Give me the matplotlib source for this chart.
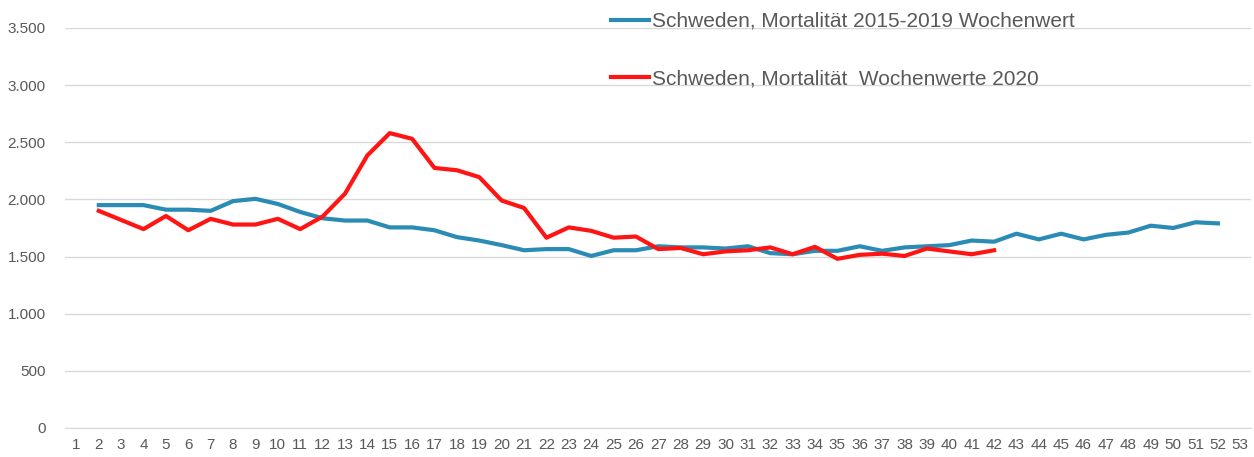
import matplotlib.pyplot as plt
from matplotlib.ticker import FuncFormatter

plt.rcParams['font.family'] = ['Liberation Sans', 'DejaVu Sans']

weeks = list(range(1, 54))
weeks_avg = list(range(2, 53))
weeks_2020 = list(range(2, 43))

avg_2015_2019 = [1950, 1950, 1950, 1910, 1910, 1900, 1985, 2005, 1960, 1890,
                 1835, 1815, 1815, 1755, 1755, 1730, 1670, 1640, 1600, 1555,
                 1565, 1565, 1505, 1555, 1555, 1590, 1580, 1580, 1570, 1590,
                 1530, 1520, 1550, 1550, 1590, 1550, 1580, 1590, 1600, 1640,
                 1630, 1700, 1650, 1700, 1650, 1690, 1710, 1770, 1750, 1800,
                 1790]

values_2020 = [1900, 1820, 1740, 1855, 1730, 1830, 1780, 1780, 1830, 1740,
               1850, 2050, 2385, 2580, 2530, 2275, 2255, 2195, 1990, 1925,
               1665, 1755, 1725, 1665, 1675, 1565, 1575, 1520, 1545, 1555,
               1580, 1520, 1585, 1480, 1515, 1525, 1505, 1570, 1545, 1520,
               1555]

fig = plt.figure(figsize=(12.54, 4.57), dpi=100)
ax = fig.add_axes([0.052, 0.0635, 0.946, 0.8753])

ax.plot(weeks_avg, avg_2015_2019, color='#2A8BB5', lw=3,
        label='Schweden, Mortalität 2015-2019 Wochenwert')
ax.plot(weeks_2020, values_2020, color='#FF1414', lw=3,
        label='Schweden, Mortalität  Wochenwerte 2020')

ax.set_xlim(0.5, 53.5)
ax.set_ylim(0, 3500)
ax.set_yticks(range(0, 3501, 500))
ax.yaxis.set_major_formatter(FuncFormatter(lambda v, p: f'{int(v):,}'.replace(',', '.')))
ax.set_xticks(weeks)
ax.set_xticklabels([str(w) for w in weeks])
ax.grid(axis='y', color='#D9D9D9', lw=1)
ax.set_axisbelow(True)
for s in ['top', 'right', 'left']:
    ax.spines[s].set_visible(False)
ax.spines['bottom'].set_color('#D9D9D9')
ax.tick_params(length=0, colors='#595959', labelsize=11)
ax.tick_params(axis='x', pad=7)
ax.tick_params(axis='y', pad=14)

fig.legend(loc='upper left', bbox_to_anchor=(0.4805, 0.992), frameon=False,
           fontsize=15, labelcolor='#595959', handlelength=1.85,
           handletextpad=0.1, labelspacing=1.85, borderaxespad=0)

fig.savefig('out.png', dpi=100)
